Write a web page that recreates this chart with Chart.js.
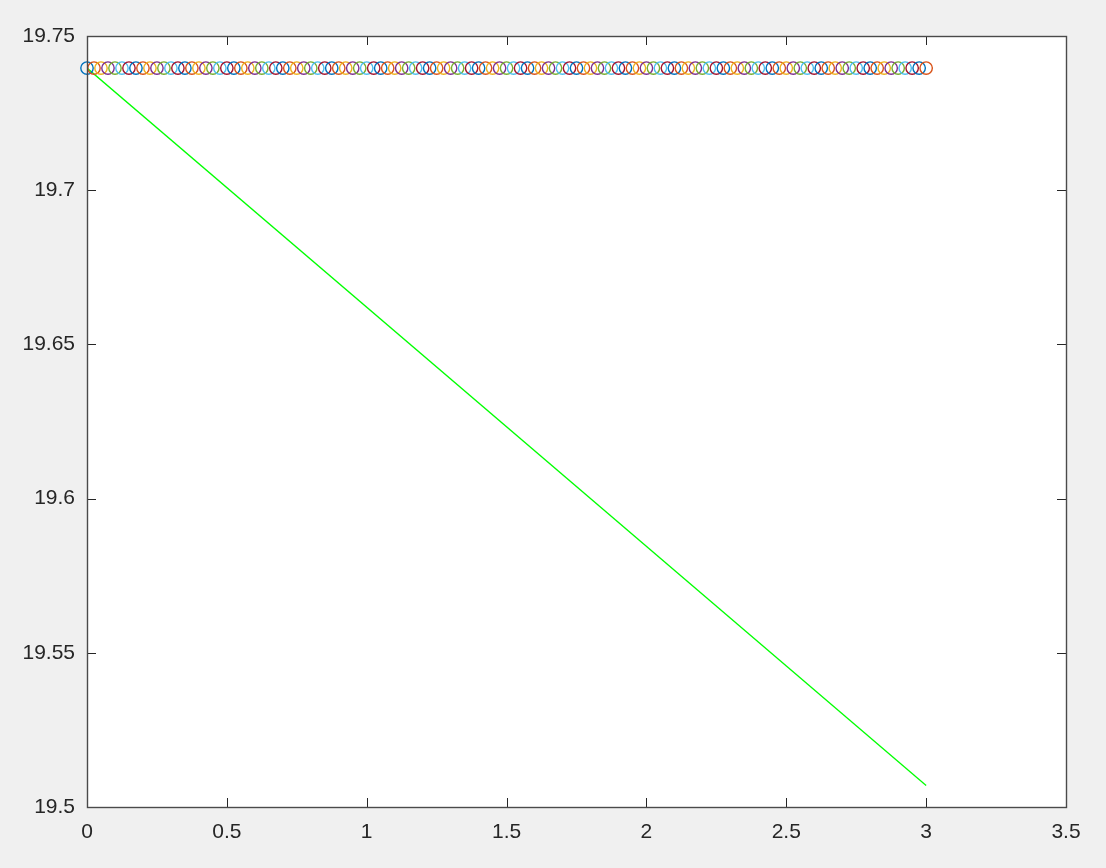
<!DOCTYPE html>
<html>
<head>
<meta charset="utf-8">
<script src="https://cdn.jsdelivr.net/npm/chart.js@4"></script>
<style>
  html, body { margin: 0; background: #f0f0f0; }
  canvas { display: block; }
</style>
</head>
<body>
<canvas id="chart" width="1106" height="868"></canvas>
<script>
// circle markers (t, value)
const markerX = [
  0, 0.025, 0.05, 0.075, 0.1, 0.125, 0.15, 0.175, 0.2, 0.225, 0.25, 0.275, 0.3, 0.325, 0.35, 0.375, 0.4, 0.425, 0.45, 0.475,
  0.5, 0.525, 0.55, 0.575, 0.6, 0.625, 0.65, 0.675, 0.7, 0.725, 0.75, 0.775, 0.8, 0.825, 0.85, 0.875, 0.9, 0.925, 0.95, 0.975,
  1, 1.025, 1.05, 1.075, 1.1, 1.125, 1.15, 1.175, 1.2, 1.225, 1.25, 1.275, 1.3, 1.325, 1.35, 1.375, 1.4, 1.425, 1.45, 1.475,
  1.5, 1.525, 1.55, 1.575, 1.6, 1.625, 1.65, 1.675, 1.7, 1.725, 1.75, 1.775, 1.8, 1.825, 1.85, 1.875, 1.9, 1.925, 1.95, 1.975,
  2, 2.025, 2.05, 2.075, 2.1, 2.125, 2.15, 2.175, 2.2, 2.225, 2.25, 2.275, 2.3, 2.325, 2.35, 2.375, 2.4, 2.425, 2.45, 2.475,
  2.5, 2.525, 2.55, 2.575, 2.6, 2.625, 2.65, 2.675, 2.7, 2.725, 2.75, 2.775, 2.8, 2.825, 2.85, 2.875, 2.9, 2.925, 2.95, 2.975,
  3,
];
const markerY = [
  19.7396, 19.7396, 19.7396, 19.7396, 19.7396, 19.7396, 19.7396, 19.7396, 19.7396, 19.7396, 19.7396, 19.7396, 19.7396, 19.7396, 19.7396, 19.7396, 19.7396, 19.7396, 19.7396, 19.7396,
  19.7396, 19.7396, 19.7396, 19.7396, 19.7396, 19.7396, 19.7396, 19.7396, 19.7396, 19.7396, 19.7396, 19.7396, 19.7396, 19.7396, 19.7396, 19.7396, 19.7396, 19.7396, 19.7396, 19.7396,
  19.7396, 19.7396, 19.7396, 19.7396, 19.7396, 19.7396, 19.7396, 19.7396, 19.7396, 19.7396, 19.7396, 19.7396, 19.7396, 19.7396, 19.7396, 19.7396, 19.7396, 19.7396, 19.7396, 19.7396,
  19.7396, 19.7396, 19.7396, 19.7396, 19.7396, 19.7396, 19.7396, 19.7396, 19.7396, 19.7396, 19.7396, 19.7396, 19.7396, 19.7396, 19.7396, 19.7396, 19.7396, 19.7396, 19.7396, 19.7396,
  19.7396, 19.7396, 19.7396, 19.7396, 19.7396, 19.7396, 19.7396, 19.7396, 19.7396, 19.7396, 19.7396, 19.7396, 19.7396, 19.7396, 19.7396, 19.7396, 19.7396, 19.7396, 19.7396, 19.7396,
  19.7396, 19.7396, 19.7396, 19.7396, 19.7396, 19.7396, 19.7396, 19.7396, 19.7396, 19.7396, 19.7396, 19.7396, 19.7396, 19.7396, 19.7396, 19.7396, 19.7396, 19.7396, 19.7396, 19.7396,
  19.7396,
];

// straight green line
const lineX = [0, 3];
const lineY = [19.7396, 19.507];

// tick labels
const xTicks = [0, 0.5, 1, 1.5, 2, 2.5, 3, 3.5];
const yTicks = [19.5, 19.55, 19.6, 19.65, 19.7, 19.75];

// default colour order, cycled one colour per marker
const colorOrder = ['#0072BD', '#D95319', '#EDB120', '#7E2F8E', '#77AC30', '#4DBEEE', '#A2142F'];

const AXIS_COLOR = '#262626';
const TICK_LEN   = 9;

/** white plot area, box outline and inward tick marks */
const boxAxes = {
  id: 'boxAxes',
  beforeDraw(chart) {
    const { ctx, chartArea: a } = chart;
    ctx.save();
    ctx.fillStyle = '#ffffff';
    ctx.fillRect(a.left, a.top, a.right - a.left, a.bottom - a.top);
    ctx.restore();
  },
  afterDraw(chart) {
    const { ctx, chartArea: a, scales } = chart;
    ctx.save();
    ctx.strokeStyle = AXIS_COLOR;
    ctx.lineWidth   = 1;
    ctx.beginPath();
    scales.x.ticks.forEach((t) => {
      const px = Math.round(scales.x.getPixelForValue(t.value)) + 0.5;
      ctx.moveTo(px, a.bottom); ctx.lineTo(px, a.bottom - TICK_LEN);
      ctx.moveTo(px, a.top);    ctx.lineTo(px, a.top + TICK_LEN);
    });
    scales.y.ticks.forEach((t) => {
      const py = Math.round(scales.y.getPixelForValue(t.value)) + 0.5;
      ctx.moveTo(a.left, py);  ctx.lineTo(a.left + TICK_LEN, py);
      ctx.moveTo(a.right, py); ctx.lineTo(a.right - TICK_LEN, py);
    });
    ctx.stroke();
    ctx.strokeStyle = '#4a4a4a';
    ctx.lineWidth   = 1.4;
    ctx.strokeRect(Math.round(a.left) + 0.5, Math.round(a.top) + 0.5,
                   Math.round(a.right - a.left), Math.round(a.bottom - a.top));
    ctx.restore();
  },
};

const tickFont = { family: '"Liberation Sans", Arial, Helvetica, sans-serif', size: 21 };
// shortest form of the number: 19.7, 19.75, 0.5, 3
const plainLabel = (v) => String(Math.round(v * 1000) / 1000);

new Chart(document.getElementById('chart'), {
  type: 'scatter',
  data: {
    datasets: [
      {
        type:        'line',
        data:        lineX.map((x, i) => ({ x, y: lineY[i] })),
        borderColor: '#00ff00',
        borderWidth: 1.3,
        pointRadius: 0,
        fill:        false,
        order:       2,
      },
      {
        data:            markerX.map((x, i) => ({ x, y: markerY[i] })),
        pointStyle:      'circle',
        pointRadius:     6.2,
        borderWidth:     1.4,
        backgroundColor: 'rgba(0,0,0,0)',
        borderColor:     markerX.map((_, i) => colorOrder[i % colorOrder.length]),
        clip:            false,
        order:           1,
      },
    ],
  },
  options: {
    responsive: false,
    animation:  false,
    events:     [],
    layout: { padding: { top: 36, right: 40, left: 0, bottom: 0 } },
    plugins: {
      legend:  { display: false },
      tooltip: { enabled: false },
    },
    scales: {
      x: {
        type: 'linear',
        min:  0,
        max:  3.5,
        afterBuildTicks: (s) => { s.ticks = xTicks.map((v) => ({ value: v })); },
        afterFit:        (s) => { s.height = 61; },
        grid:   { display: false, drawTicks: false },
        border: { display: false },
        ticks:  { color: AXIS_COLOR, font: tickFont, padding: 13, maxRotation: 0, callback: plainLabel },
      },
      y: {
        type: 'linear',
        min:  19.5,
        max:  19.75,
        afterBuildTicks: (s) => { s.ticks = yTicks.map((v) => ({ value: v })); },
        afterFit:        (s) => { s.width = 87; },
        grid:   { display: false, drawTicks: false },
        border: { display: false },
        ticks:  { color: AXIS_COLOR, font: tickFont, padding: 12, callback: plainLabel },
      },
    },
  },
  plugins: [boxAxes],
});
</script>
</body>
</html>
